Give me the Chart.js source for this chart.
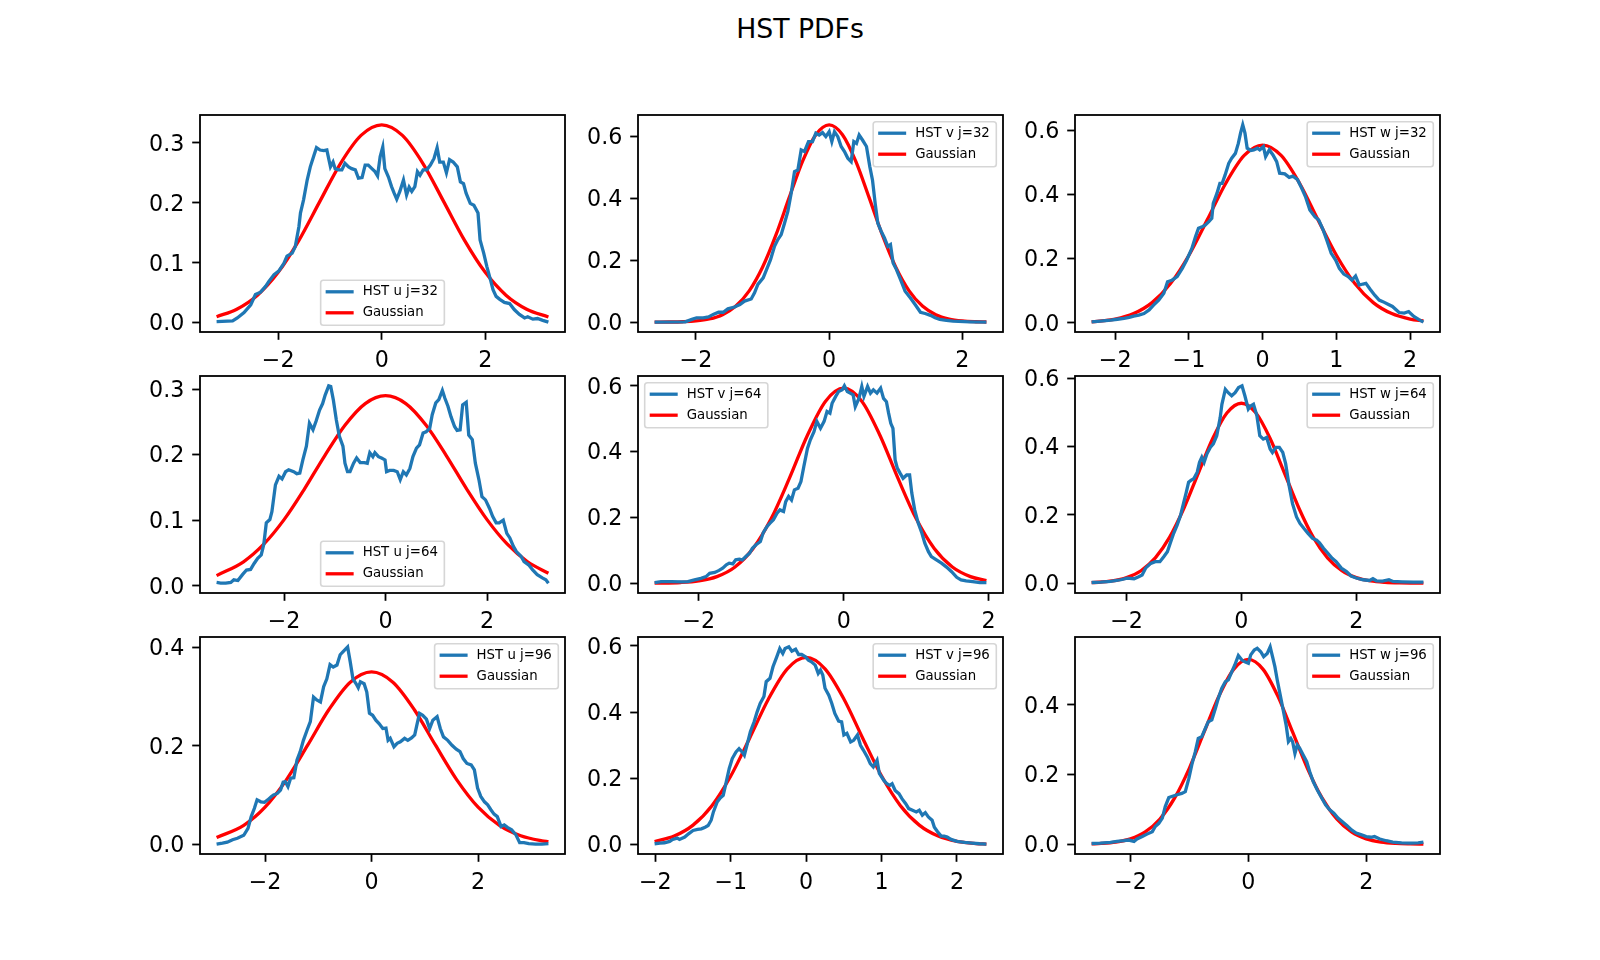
<!DOCTYPE html>
<html>
<head>
<meta charset="utf-8">
<title>HST PDFs</title>
<script src="https://cdn.jsdelivr.net/npm/chart.js@4.4.1/dist/chart.umd.min.js"></script>
<style>
  body { margin: 0; background: #fff; }
  #fig { position: relative; width: 1600px; height: 960px; background: #fff; font-family: "DejaVu Sans", sans-serif; overflow: hidden; }
  #title { position: absolute; left: 0; top: 16px; width: 1600px; text-align: center; font-size: 26.7px; line-height: 1; color: #000; }
  canvas { position: absolute; }
</style>
</head>
<body>
<div id="fig"><div id="title">HST PDFs</div></div>
<script>
// ---- data ----
const u32X = [-3.19,-2.88,-2.79,-2.66,-2.53,-2.44,-2.34,-2.24,-2.18,-2.08,
  -1.99,-1.89,-1.83,-1.73,-1.67,-1.60,-1.57,-1.51,-1.44,-1.38,
  -1.31,-1.26,-1.19,-1.12,-1.06,-0.99,-0.94,-0.90,-0.83,-0.77,
  -0.71,-0.64,-0.58,-0.51,-0.45,-0.38,-0.32,-0.26,-0.19,-0.13,
  -0.08,-0.03,0.02,0.06,0.13,0.19,0.24,0.29,0.35,0.42,
  0.48,0.53,0.58,0.64,0.69,0.74,0.80,0.87,0.94,1.01,
  1.07,1.12,1.19,1.25,1.31,1.38,1.46,1.52,1.58,1.63,
  1.71,1.78,1.86,1.90,1.97,2.03,2.10,2.15,2.21,2.28,
  2.37,2.47,2.56,2.66,2.76,2.82,2.92,3.01,3.11,3.22];
const u32Y = [.002,.003,.008,.017,.030,.047,.051,.061,.069,.080,
  .086,.099,.111,.116,.127,.160,.183,.205,.238,.260,
  .279,.292,.288,.287,.288,.260,.268,.257,.255,.255,
  .266,.260,.257,.255,.241,.242,.263,.263,.257,.252,
  .245,.277,.293,.257,.243,.227,.216,.206,.219,.238,
  .213,.226,.219,.227,.252,.246,.255,.255,.263,.274,
  .292,.268,.268,.250,.272,.268,.260,.235,.232,.216,
  .199,.196,.183,.138,.116,.094,.072,.055,.044,.039,
  .034,.032,.022,.014,.008,.010,.006,.007,.004,.001];
const u32GX = [-3.19,-2.8,-2.4,-2.0,-1.6,-1.2,-0.8,-0.4,0,0.4,0.8,1.2,1.6,2.0,2.4,2.8,3.22];
const u32GY = [.0101,.0226,.0460,.0840,.1374,.2016,.2651,.3124,.330,.3124,.2651,.2016,.1374,.0840,.0460,.0226,.0095];

const v32X = [-2.62,-2.16,-2.06,-1.99,-1.89,-1.81,-1.74,-1.66,-1.59,-1.52,
  -1.42,-1.34,-1.27,-1.17,-1.12,-1.07,-0.99,-0.94,-0.88,-0.82,
  -0.77,-0.72,-0.67,-0.62,-0.57,-0.52,-0.47,-0.42,-0.37,-0.31,
  -0.25,-0.20,-0.15,-0.10,-0.05,0.00,0.04,0.08,0.13,0.18,
  0.23,0.28,0.33,0.37,0.41,0.45,0.50,0.56,0.61,0.65,
  0.69,0.73,0.78,0.83,0.88,0.92,0.96,1.01,1.07,1.14,
  1.22,1.29,1.37,1.44,1.52,1.59,1.66,1.76,1.86,2.11,
  2.36];
const v32Y = [0,.001,.009,.014,.014,.017,.025,.032,.032,.043,
  .049,.057,.068,.075,.095,.122,.143,.170,.202,.245,
  .267,.283,.320,.358,.417,.487,.492,.557,.552,.584,
  .584,.611,.605,.613,.600,.616,.584,.616,.600,.568,
  .552,.530,.519,.584,.578,.605,.589,.568,.503,.460,
  .385,.320,.294,.272,.245,.251,.191,.170,.138,.100,
  .078,.057,.032,.028,.022,.014,.009,.006,.003,.001,
  0];
const v32GX = [-2.62,-2.4,-2.2,-2.0,-1.8,-1.6,-1.4,-1.2,-1.0,-0.8,-0.6,-0.4,-0.2,0,0.2,0.4,0.6,0.8,1.0,1.2,1.4,1.6,1.8,2.0,2.2,2.36];
const v32GY = [.0001,.0004,.0013,.0038,.0101,.0241,.0519,.1010,.1774,.2812,.4025,.5198,.6062,.638,.6062,.5198,.4025,.2812,.1774,.1010,.0519,.0241,.0101,.0038,.0013,.0005];

const w32X = [-2.32,-2.20,-2.06,-1.97,-1.88,-1.81,-1.75,-1.68,-1.61,-1.54,
  -1.48,-1.41,-1.34,-1.29,-1.23,-1.16,-1.09,-1.03,-0.96,-0.91,
  -0.87,-0.82,-0.78,-0.73,-0.69,-0.67,-0.62,-0.58,-0.55,-0.51,
  -0.46,-0.42,-0.37,-0.33,-0.30,-0.27,-0.24,-0.21,-0.16,-0.12,
  -0.07,-0.04,0.01,0.04,0.09,0.14,0.19,0.23,0.30,0.36,
  0.41,0.47,0.53,0.58,0.64,0.71,0.76,0.82,0.87,0.93,
  0.99,1.04,1.10,1.16,1.21,1.26,1.31,1.36,1.40,1.46,
  1.52,1.58,1.63,1.70,1.76,1.85,1.92,1.98,2.05,2.12,
  2.18];
const w32Y = [.003,.005,.008,.011,.014,.017,.021,.024,.029,.040,
  .055,.071,.092,.128,.133,.144,.170,.196,.232,.269,
  .295,.300,.305,.316,.326,.373,.404,.435,.435,.461,
  .498,.514,.529,.560,.592,.618,.592,.545,.538,.540,
  .545,.540,.550,.519,.540,.524,.503,.467,.465,.454,
  .458,.448,.420,.394,.352,.331,.321,.290,.258,.217,
  .196,.170,.152,.144,.133,.146,.118,.121,.123,.104,
  .086,.071,.066,.058,.051,.032,.030,.035,.020,.010,
  .002];
const w32GX = [-2.32,-2.0,-1.75,-1.5,-1.25,-1.0,-0.75,-0.5,-0.25,0,0.25,0.5,0.75,1.0,1.25,1.5,1.75,2.0,2.18];
const w32GY = [.0030,.0116,.0287,.0630,.1225,.2110,.3221,.4358,.5225,.555,.5225,.4358,.3221,.2110,.1225,.0630,.0287,.0116,.0056];

const u64X = [-3.33,-3.25,-3.15,-3.05,-2.99,-2.91,-2.82,-2.74,-2.66,-2.59,
  -2.52,-2.45,-2.40,-2.35,-2.28,-2.24,-2.17,-2.10,-2.04,-1.97,
  -1.91,-1.81,-1.75,-1.69,-1.63,-1.56,-1.50,-1.43,-1.37,-1.30,
  -1.24,-1.19,-1.12,-1.08,-1.03,-0.97,-0.91,-0.84,-0.80,-0.75,
  -0.70,-0.63,-0.57,-0.50,-0.42,-0.36,-0.31,-0.25,-0.21,-0.14,
  -0.08,-0.01,0.02,0.08,0.16,0.23,0.29,0.35,0.41,0.48,
  0.54,0.61,0.67,0.74,0.80,0.87,0.92,0.99,1.05,1.12,
  1.17,1.23,1.29,1.36,1.41,1.47,1.52,1.59,1.64,1.71,
  1.77,1.84,1.90,1.97,2.05,2.11,2.18,2.24,2.32,2.39,
  2.45,2.52,2.58,2.67,2.73,2.82,2.90,2.99,3.09,3.16,
  3.21];
const u64Y = [.005,.004,.004,.005,.009,.008,.017,.024,.025,.034,
  .042,.047,.063,.096,.101,.113,.154,.167,.163,.174,
  .177,.174,.171,.172,.192,.213,.248,.238,.251,.268,
  .278,.291,.305,.304,.284,.253,.228,.213,.187,.174,
  .174,.187,.195,.188,.188,.187,.203,.197,.203,.197,
  .195,.192,.174,.176,.176,.174,.162,.174,.169,.179,
  .197,.210,.215,.233,.235,.240,.261,.279,.284,.298,
  .286,.274,.258,.243,.237,.238,.276,.280,.230,.223,
  .187,.162,.136,.131,.118,.106,.096,.096,.100,.080,
  .073,.060,.052,.045,.037,.032,.024,.017,.012,.009,
  .004];
const u64GX = [-3.33,-2.8,-2.4,-2.0,-1.6,-1.2,-0.8,-0.4,0,0.4,0.8,1.2,1.6,2.0,2.4,2.8,3.21];
const u64GY = [.0155,.0366,.0634,.1009,.1475,.1983,.2449,.2780,.290,.2780,.2449,.1983,.1475,.1009,.0634,.0366,.0191];

const v64X = [-2.61,-2.52,-2.38,-2.24,-2.15,-2.06,-1.97,-1.90,-1.85,-1.78,
  -1.72,-1.67,-1.62,-1.58,-1.53,-1.49,-1.44,-1.40,-1.35,-1.30,
  -1.26,-1.21,-1.15,-1.11,-1.06,-1.02,-0.97,-0.92,-0.88,-0.83,
  -0.80,-0.76,-0.72,-0.68,-0.63,-0.59,-0.55,-0.50,-0.46,-0.41,
  -0.37,-0.32,-0.27,-0.23,-0.19,-0.16,-0.11,-0.07,-0.02,0.01,
  0.05,0.09,0.13,0.16,0.21,0.25,0.28,0.33,0.37,0.41,
  0.46,0.51,0.55,0.59,0.62,0.65,0.68,0.71,0.74,0.78,
  0.82,0.87,0.91,0.94,0.98,1.03,1.08,1.12,1.17,1.21,
  1.28,1.35,1.42,1.49,1.56,1.62,1.69,1.78,1.88,1.97];
const v64Y = [.002,.005,.005,.004,.005,.010,.015,.020,.030,.033,
  .039,.046,.056,.061,.059,.071,.073,.071,.081,.091,
  .106,.117,.127,.154,.172,.182,.193,.213,.223,.218,
  .248,.264,.253,.284,.289,.309,.355,.410,.436,.461,
  .492,.471,.492,.522,.517,.547,.568,.583,.588,.600,
  .583,.578,.573,.537,.562,.598,.568,.598,.578,.588,
  .578,.593,.562,.552,.517,.486,.471,.375,.350,.334,
  .319,.329,.329,.274,.223,.182,.152,.122,.096,.081,
  .071,.061,.049,.035,.018,.010,.007,.005,.002,.002];
const v64GX = [-2.61,-2.25,-2.0,-1.75,-1.5,-1.25,-1.0,-0.75,-0.5,-0.25,0,0.25,0.5,0.75,1.0,1.25,1.5,1.75,1.97];
const v64GY = [.0003,.0022,.0072,.0202,.0495,.1057,.1966,.3187,.4500,.5535,.593,.5535,.4500,.3187,.1966,.1057,.0495,.0202,.0080];

const w64X = [-2.61,-2.45,-2.28,-2.10,-1.99,-1.87,-1.79,-1.73,-1.67,-1.58,
  -1.50,-1.42,-1.35,-1.29,-1.24,-1.18,-1.12,-1.06,-1.01,-0.96,
  -0.92,-0.88,-0.83,-0.77,-0.73,-0.69,-0.65,-0.60,-0.54,-0.49,
  -0.43,-0.37,-0.34,-0.28,-0.23,-0.17,-0.11,-0.05,0.01,0.06,
  0.12,0.16,0.21,0.27,0.32,0.38,0.44,0.50,0.54,0.60,
  0.66,0.72,0.77,0.83,0.89,0.96,1.02,1.09,1.16,1.24,
  1.31,1.36,1.43,1.51,1.58,1.65,1.74,1.83,1.91,2.00,
  2.12,2.23,2.29,2.35,2.46,2.57,2.64,2.80,3.00,3.17];
const w64Y = [.002,.003,.005,.010,.015,.013,.019,.024,.044,.058,
  .063,.063,.078,.092,.117,.146,.170,.199,.233,.267,
  .296,.301,.306,.325,.354,.369,.354,.379,.398,.408,
  .432,.485,.524,.568,.558,.549,.558,.573,.578,.549,
  .510,.519,.524,.490,.432,.422,.427,.393,.383,.398,
  .398,.383,.350,.286,.233,.194,.175,.160,.146,.131,
  .126,.118,.102,.087,.073,.063,.044,.034,.021,.015,
  .010,.008,.013,.007,.006,.010,.005,.004,.003,.003];
const w64GX = [-2.61,-2.25,-2.0,-1.75,-1.5,-1.25,-1.0,-0.75,-0.5,-0.25,0,0.25,0.5,0.75,1.0,1.25,1.5,1.75,2.0,2.25,2.5,2.75,3.17];
const w64GY = [.0014,.0064,.0161,.0364,.0740,.1348,.2202,.3226,.4237,.4990,.527,.4990,.4237,.3226,.2202,.1348,.0740,.0364,.0161,.0064,.0023,.0007,.0001];

const u96X = [-2.91,-2.80,-2.71,-2.61,-2.52,-2.40,-2.32,-2.26,-2.20,-2.15,
  -2.08,-2.01,-1.95,-1.88,-1.84,-1.77,-1.71,-1.66,-1.62,-1.57,
  -1.52,-1.46,-1.40,-1.34,-1.28,-1.21,-1.15,-1.09,-1.03,-0.96,
  -0.90,-0.84,-0.78,-0.72,-0.65,-0.59,-0.53,-0.45,-0.40,-0.35,
  -0.29,-0.25,-0.21,-0.14,-0.09,-0.04,0.02,0.08,0.14,0.21,
  0.27,0.31,0.35,0.42,0.48,0.54,0.62,0.68,0.75,0.81,
  0.85,0.90,0.96,1.03,1.09,1.15,1.23,1.29,1.35,1.43,
  1.51,1.59,1.66,1.72,1.79,1.87,1.93,1.99,2.05,2.12,
  2.18,2.24,2.30,2.36,2.43,2.49,2.55,2.63,2.71,2.78,
  2.86,2.95,3.08,3.20,3.32];
const u96Y = [0,.002,.004,.009,.012,.018,.032,.056,.073,.090,
  .086,.085,.090,.097,.100,.103,.110,.126,.127,.117,
  .134,.135,.171,.188,.211,.232,.249,.299,.293,.289,
  .320,.336,.365,.360,.364,.385,.392,.401,.370,.336,
  .326,.318,.330,.326,.309,.266,.262,.252,.245,.235,
  .236,.211,.215,.198,.205,.208,.215,.211,.216,.222,
  .242,.266,.262,.254,.235,.252,.259,.235,.218,.211,
  .201,.193,.188,.174,.164,.161,.151,.114,.097,.086,
  .080,.070,.061,.056,.036,.039,.034,.029,.019,.003,
  .003,.001,0,0,.001];
const u96GX = [-2.91,-2.4,-2.0,-1.6,-1.2,-0.8,-0.4,0,0.4,0.8,1.2,1.6,2.0,2.4,2.8,3.2,3.32];
const u96GY = [.0135,.0382,.0751,.1307,.2011,.2736,.3291,.350,.3291,.2736,.2011,.1307,.0751,.0382,.0171,.0068,.0050];

const v96X = [-2.01,-1.94,-1.88,-1.81,-1.77,-1.71,-1.68,-1.61,-1.56,-1.50,
  -1.44,-1.39,-1.34,-1.30,-1.26,-1.23,-1.18,-1.14,-1.10,-1.07,
  -1.02,-0.98,-0.93,-0.89,-0.85,-0.82,-0.78,-0.74,-0.69,-0.65,
  -0.61,-0.56,-0.53,-0.48,-0.44,-0.39,-0.35,-0.31,-0.28,-0.23,
  -0.19,-0.14,-0.10,-0.06,-0.01,0.03,0.07,0.12,0.16,0.19,
  0.22,0.25,0.30,0.34,0.38,0.43,0.47,0.50,0.54,0.59,
  0.63,0.68,0.72,0.76,0.81,0.85,0.89,0.94,0.97,1.03,
  1.07,1.11,1.14,1.18,1.23,1.27,1.32,1.36,1.41,1.46,
  1.50,1.54,1.58,1.62,1.67,1.70,1.74,1.79,1.83,1.87,
  1.92,2.00,2.10,2.20,2.30,2.39];
const v96Y = [.003,.005,.006,.010,.016,.020,.016,.023,.033,.043,
  .046,.048,.053,.058,.074,.099,.129,.141,.149,.179,
  .230,.260,.280,.290,.280,.270,.305,.341,.371,.401,
  .426,.447,.492,.502,.537,.567,.592,.577,.592,.597,
  .584,.590,.574,.574,.567,.557,.552,.542,.517,.527,
  .512,.472,.451,.426,.396,.373,.371,.331,.336,.310,
  .315,.331,.300,.285,.265,.245,.235,.255,.215,.194,
  .184,.179,.184,.164,.154,.139,.124,.109,.104,.099,
  .104,.089,.097,.084,.074,.053,.040,.026,.026,.023,
  .016,.010,.007,.005,.003,.002];
const v96GX = [-2.01,-1.75,-1.5,-1.25,-1.0,-0.75,-0.5,-0.25,0,0.25,0.5,0.75,1.0,1.25,1.5,1.75,2.0,2.25,2.39];
const v96GY = [.0098,.0262,.0592,.1179,.2072,.3214,.4397,.5306,.565,.5306,.4397,.3214,.2072,.1179,.0592,.0262,.0102,.0035,.0018];

const w96X = [-2.66,-2.51,-2.34,-2.23,-2.11,-2.03,-1.94,-1.89,-1.80,-1.72,
  -1.63,-1.58,-1.52,-1.46,-1.41,-1.35,-1.30,-1.21,-1.13,-1.07,
  -1.01,-0.96,-0.90,-0.85,-0.79,-0.73,-0.68,-0.62,-0.56,-0.51,
  -0.45,-0.39,-0.34,-0.28,-0.23,-0.17,-0.11,-0.06,0.00,0.04,
  0.10,0.15,0.21,0.26,0.32,0.37,0.41,0.45,0.49,0.54,
  0.58,0.64,0.68,0.72,0.75,0.79,0.83,0.87,0.93,0.99,
  1.04,1.10,1.17,1.24,1.31,1.38,1.45,1.52,1.59,1.67,
  1.75,1.83,1.92,2.00,2.08,2.14,2.23,2.34,2.45,2.60,
  2.75,2.88,2.97];
const w96Y = [.002,.003,.005,.008,.010,.012,.008,.015,.022,.029,
  .036,.051,.060,.075,.108,.134,.137,.142,.146,.151,
  .189,.228,.266,.304,.309,.333,.352,.357,.390,.419,
  .448,.467,.472,.496,.515,.542,.529,.524,.520,.544,
  .558,.563,.553,.539,.548,.567,.539,.510,.472,.429,
  .395,.343,.295,.304,.295,.261,.285,.276,.256,.237,
  .209,.180,.156,.134,.113,.099,.089,.075,.065,.054,
  .041,.032,.027,.022,.020,.022,.015,.010,.006,.004,
  .003,.004,.006];
const w96GX = [-2.66,-2.5,-2.25,-2.0,-1.75,-1.5,-1.25,-1.0,-0.75,-0.5,-0.25,0,0.25,0.5,0.75,1.0,1.25,1.5,1.75,2.0,2.25,2.5,2.75,2.97];
const w96GY = [.0010,.0021,.0060,.0153,.0352,.0723,.1329,.2188,.3225,.4254,.5024,.531,.5024,.4254,.3225,.2188,.1329,.0723,.0352,.0153,.0060,.0021,.0007,.0002];

const labels = ['HST u j=32','HST v j=32','HST w j=32','HST u j=64','HST v j=64','HST w j=64','HST u j=96','HST v j=96','HST w j=96'];
const xTicks2 = [-2, 0, 2];
const xTicks1 = [-2, -1, 0, 1, 2];
const yTicksA = [0, 0.1, 0.2, 0.3];
const yTicksB = [0, 0.2, 0.4, 0.6];
const yTicksC = [0, 0.2, 0.4];

const panels = [
  { bx: u32X, by: u32Y, gx: u32GX, gy: u32GY, xt: xTicks2, yt: yTicksA, loc: 'lower center' },
  { bx: v32X, by: v32Y, gx: v32GX, gy: v32GY, xt: xTicks2, yt: yTicksB, loc: 'upper right' },
  { bx: w32X, by: w32Y, gx: w32GX, gy: w32GY, xt: xTicks1, yt: yTicksB, loc: 'upper right' },
  { bx: u64X, by: u64Y, gx: u64GX, gy: u64GY, xt: xTicks2, yt: yTicksA, loc: 'lower center' },
  { bx: v64X, by: v64Y, gx: v64GX, gy: v64GY, xt: xTicks2, yt: yTicksB, loc: 'upper left' },
  { bx: w64X, by: w64Y, gx: w64GX, gy: w64GY, xt: xTicks2, yt: yTicksB, loc: 'upper right' },
  { bx: u96X, by: u96Y, gx: u96GX, gy: u96GY, xt: xTicks2, yt: yTicksC, loc: 'upper right' },
  { bx: v96X, by: v96Y, gx: v96GX, gy: v96GY, xt: xTicks1, yt: yTicksB, loc: 'upper right' },
  { bx: w96X, by: w96Y, gx: w96GX, gy: w96GY, xt: xTicks2, yt: yTicksC, loc: 'upper right' }
];

// ---- layout (matplotlib-like 3x3 grid) ----
const colLeft = [200, 638, 1075];
const rowTop = [115, 376, 637];
const AX_W = 365, AX_H = 217;
const PAD_L = 85, PAD_T = 30, PAD_R = 24, PAD_B = 50;
const FONT = '"DejaVu Sans", sans-serif';

function pts(xs, ys) {
  const n = Math.min(xs.length, ys.length);
  const out = [];
  for (let i = 0; i < n; i++) out.push({ x: xs[i], y: ys[i] });
  return out;
}
function fmtX(v) { return v < 0 ? '\u2212' + Math.abs(v) : String(v); }
function fmtY(v) { return v.toFixed(1); }

// box around the axes
const framePlugin = {
  id: 'frame',
  afterDatasetsDraw(chart) {
    const { ctx, chartArea: a } = chart;
    ctx.save();
    ctx.strokeStyle = '#000';
    ctx.lineWidth = 1.8;
    ctx.strokeRect(a.left, a.top, a.right - a.left, a.bottom - a.top);
    ctx.restore();
  }
};

// legend drawn inside the plot area
const boxLegend = {
  id: 'boxLegend',
  afterDatasetsDraw(chart, args, opts) {
    const { ctx, chartArea: a } = chart;
    const sets = chart.data.datasets;
    ctx.save();
    ctx.font = '13.3px ' + FONT;
    const tw = Math.max(...sets.map(d => ctx.measureText(d.label).width));
    const w = 5 + 28 + 9 + tw + 6.5, h = 45, gap = 6.7;
    let x, y;
    if (opts.loc === 'lower center') { x = (a.left + a.right) / 2 - w / 2; y = a.bottom - gap - h; }
    else if (opts.loc === 'upper left') { x = a.left + gap; y = a.top + gap; }
    else { x = a.right - gap - w; y = a.top + gap; }
    ctx.beginPath();
    if (ctx.roundRect) ctx.roundRect(x, y, w, h, 2.7); else ctx.rect(x, y, w, h);
    ctx.fillStyle = 'rgba(255,255,255,0.8)';
    ctx.fill();
    ctx.strokeStyle = 'rgba(204,204,204,0.8)';
    ctx.lineWidth = 1.6;
    ctx.stroke();
    sets.forEach((d, i) => {
      const cy = y + 11.5 + i * 21;
      ctx.beginPath();
      ctx.strokeStyle = d.borderColor;
      ctx.lineWidth = 3.3;
      ctx.moveTo(x + 5, cy);
      ctx.lineTo(x + 33, cy);
      ctx.stroke();
      ctx.fillStyle = '#000';
      ctx.textBaseline = 'middle';
      ctx.textAlign = 'left';
      ctx.fillText(d.label, x + 42, cy);
    });
    ctx.restore();
  }
};

const fig = document.getElementById('fig');

panels.forEach((p, i) => {
  const axL = colLeft[i % 3], axT = rowTop[Math.floor(i / 3)];
  const cv = document.createElement('canvas');
  cv.width = AX_W + PAD_L + PAD_R;
  cv.height = AX_H + PAD_T + PAD_B;
  cv.style.left = (axL - PAD_L) + 'px';
  cv.style.top = (axT - PAD_T) + 'px';
  fig.appendChild(cv);

  const allX = p.bx.concat(p.gx), allY = p.by.concat(p.gy);
  const x0 = Math.min(...allX), x1 = Math.max(...allX);
  const y0 = Math.min(...allY), y1 = Math.max(...allY);
  const mx = (x1 - x0) * 0.05, my = (y1 - y0) * 0.05;

  const tickGrid = {
    display: true, drawOnChartArea: false, drawTicks: true,
    tickLength: 7.8, tickWidth: 1.8, tickColor: '#000'
  };
  const tickFont = { family: FONT, size: 22.2 };

  const chart = new Chart(cv, {
    type: 'scatter',
    data: {
      datasets: [
        { label: labels[i], data: pts(p.bx, p.by), showLine: true, borderColor: '#1f77b4',
          borderWidth: 3.3, pointRadius: 0, tension: 0, fill: false },
        { label: 'Gaussian', data: pts(p.gx, p.gy), showLine: true, borderColor: '#ff0000',
          borderWidth: 3.3, pointRadius: 0, cubicInterpolationMode: 'monotone', fill: false }
      ]
    },
    options: {
      responsive: false,
      animation: false,
      devicePixelRatio: 1,
      layout: { padding: { left: 0, top: PAD_T, right: PAD_R, bottom: 0 } },
      plugins: {
        legend: { display: false },
        tooltip: { enabled: false },
        boxLegend: { loc: p.loc }
      },
      scales: {
        x: {
          type: 'linear', min: x0 - mx, max: x1 + mx,
          afterFit: s => { s.height = PAD_B; },
          afterBuildTicks: s => { s.ticks = p.xt.map(v => ({ value: v })); },
          ticks: { font: tickFont, color: '#000', padding: 7.8, maxRotation: 0, autoSkip: false, callback: v => fmtX(v) },
          grid: tickGrid,
          border: { display: false }
        },
        y: {
          type: 'linear', min: y0 - my, max: y1 + my,
          afterFit: s => { s.width = PAD_L; },
          afterBuildTicks: s => { s.ticks = p.yt.map(v => ({ value: v })); },
          ticks: { font: tickFont, color: '#000', padding: 7.8, labelOffset: 2, autoSkip: false, callback: v => fmtY(v) },
          grid: tickGrid,
          border: { display: false }
        }
      }
    },
    plugins: [framePlugin, boxLegend]
  });

  // keep the plot area exactly on the grid cell
  const a = chart.chartArea;
  cv.style.left = (axL - a.left) + 'px';
  cv.style.top = (axT - a.top) + 'px';
});
</script>
</body>
</html>
